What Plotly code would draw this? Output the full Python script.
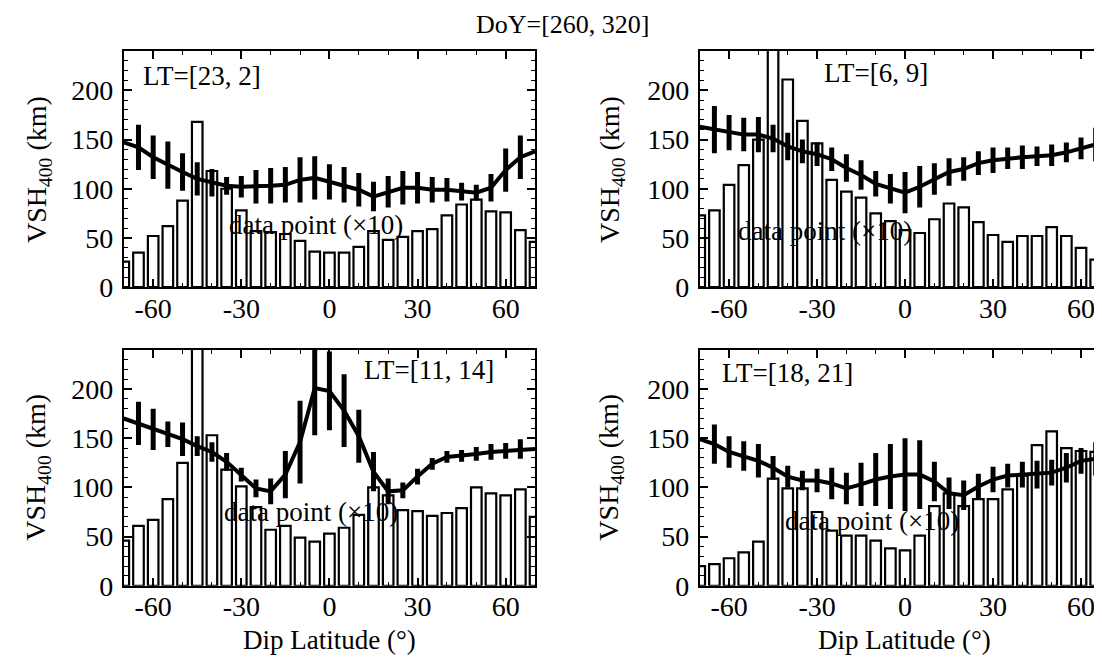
import plotly.graph_objects as go

# ---------------- data ----------------
lat = list(range(-70, 75, 5))

# LT=[23, 2]
counts_23_2 = [26, 35, 52, 62, 88, 168, 118, 100, 78, 57, 56, 54, 47, 36, 35,
               35, 41, 57, 48, 51, 57, 59, 73, 84, 89, 77, 76, 58, 46]
vsh_23_2 = [147, 142, 132, 124, 117, 110, 106, 103, 102, 102, 103, 104, 109, 111, 107,
            104, 99, 92, 97, 101, 101, 99, 99, 97, 96, 101, 119, 132, 138]
err_23_2 = [0, 23, 22, 24, 19, 17, 14, 9, 11, 17, 18, 18, 23, 22, 18,
            18, 17, 15, 16, 17, 16, 13, 12, 9, 8, 14, 22, 22, 0]

# LT=[6, 9]
counts_6_9 = [73, 78, 104, 124, 150, 300, 211, 169, 146, 109, 97, 91, 75, 67, 58,
              55, 69, 85, 81, 66, 53, 46, 52, 52, 61, 52, 40, 28, 16]
vsh_6_9 = [163, 160, 157, 155, 155, 151, 143, 138, 135, 130, 121, 114, 105, 100, 96,
           102, 110, 117, 120, 126, 129, 131, 132, 133, 134, 137, 141, 145, 147]
err_6_9 = [0, 24, 18, 17, 18, 14, 14, 12, 12, 12, 14, 15, 13, 15, 21,
           21, 16, 14, 12, 12, 13, 11, 12, 10, 11, 10, 11, 17, 0]

# LT=[11, 14]
counts_11_14 = [46, 61, 67, 88, 125, 300, 153, 118, 101, 80, 57, 61, 49, 45, 53,
                59, 72, 100, 92, 77, 76, 71, 74, 79, 100, 94, 92, 98, 70]
vsh_11_14 = [170, 165, 159, 154, 149, 142, 136, 126, 113, 99, 96, 113, 146, 201, 198,
             178, 152, 116, 96, 97, 111, 124, 131, 132, 134, 136, 137, 139, 139]
err_11_14 = [0, 22, 21, 13, 17, 10, 10, 9, 7, 9, 13, 24, 42, 48, 40,
             37, 27, 20, 13, 8, 8, 6, 6, 6, 7, 8, 8, 10, 0]

# LT=[18, 21]
counts_18_21 = [20, 22, 28, 34, 45, 109, 99, 99, 75, 56, 51, 51, 46, 38, 36,
                51, 81, 94, 81, 88, 88, 98, 112, 143, 157, 140, 137, 136, 113]
vsh_18_21 = [149, 144, 136, 132, 127, 120, 111, 107, 107, 104, 99, 103, 108, 111, 113,
             113, 106, 94, 92, 101, 108, 112, 113, 113, 115, 120, 127, 129, 128]
err_18_21 = [0, 20, 16, 15, 17, 12, 11, 10, 12, 16, 16, 22, 27, 33, 37,
             35, 20, 16, 15, 13, 13, 12, 13, 14, 13, 15, 13, 17, 0]

lt_labels = ["LT=[23, 2]", "LT=[6, 9]", "LT=[11, 14]", "LT=[18, 21]"]
x_ticks = [-60, -30, 0, 30, 60]
x_tick_text = ["-60", "-30", "0", "30", "60"]
y_ticks = [0, 50, 100, 150, 200]
title_text = "DoY=[260, 320]"
ylabel = "VSH<sub>400</sub> (km)"
xlabel = "Dip Latitude (°)"
count_label = "data point (×10)"

# ---------------- figure ----------------
W, H = 1102, 668
FONT = "Liberation Serif"
FS_TICK = 28
FS = 27


def px(x):
    return x / W


def py(y):
    return 1 - y / H


fig = go.Figure()

series = [
    (counts_23_2, vsh_23_2, err_23_2),
    (counts_6_9, vsh_6_9, err_6_9),
    (counts_11_14, vsh_11_14, err_11_14),
    (counts_18_21, vsh_18_21, err_18_21),
]

for i, (cnt, vsh, err) in enumerate(series):
    xa = "x" if i == 0 else f"x{i+1}"
    ya = "y" if i == 0 else f"y{i+1}"
    fig.add_trace(go.Bar(
        x=lat, y=cnt, width=3.6, xaxis=xa, yaxis=ya,
        marker=dict(color="white", line=dict(color="black", width=2.2)),
        showlegend=False, hoverinfo="skip"))
    fig.add_trace(go.Scatter(
        x=lat, y=vsh, mode="lines", xaxis=xa, yaxis=ya,
        line=dict(color="black", width=4),
        error_y=dict(type="data", array=err, visible=True, color="black",
                     thickness=5, width=0),
        showlegend=False, hoverinfo="skip"))

left_dom = [px(116), px(528)]
right_dom = [px(693), 1.0]
top_dom = [py(286), py(44)]
bot_dom = [py(592), py(350)]

common = dict(showline=True, linecolor="black", linewidth=2, mirror="allticks",
              ticks="inside", ticklen=8, tickwidth=1.5, tickcolor="black",
              showgrid=False, zeroline=False,
              tickfont=dict(family=FONT, size=FS_TICK, color="black"))

xcfg = dict(common, tickmode="array", tickvals=x_ticks, ticktext=x_tick_text,
            ticklabelstandoff=-5,
            minor=dict(ticks="inside", ticklen=4, dtick=10, tick0=0,
                       tickcolor="black", tickwidth=1))
ycfg = dict(common, range=[0, 240], tickvals=y_ticks, ticklabelstandoff=3,
            minor=dict(ticks="inside", ticklen=4, dtick=10, tick0=0,
                       tickcolor="black", tickwidth=1))

doms = [(left_dom, top_dom, [-70, 70]), (right_dom, top_dom, [-70, 69.2]),
        (left_dom, bot_dom, [-70, 70]), (right_dom, bot_dom, [-70, 69.2])]

layout = {}
for i, (xd, yd, xr) in enumerate(doms):
    xk = "xaxis" if i == 0 else f"xaxis{i+1}"
    yk = "yaxis" if i == 0 else f"yaxis{i+1}"
    xa = "x" if i == 0 else f"x{i+1}"
    ya = "y" if i == 0 else f"y{i+1}"
    layout[xk] = dict(xcfg, domain=xd, range=xr, anchor=ya)
    layout[yk] = dict(ycfg, domain=yd, anchor=xa)

fig.update_layout(**layout)

ann = []


def text(x, y, s, xanchor="center", yanchor="middle", angle=0, size=FS):
    ann.append(dict(x=px(x), y=py(y), xref="paper", yref="paper", text=s,
                    showarrow=False, xanchor=xanchor, yanchor=yanchor,
                    textangle=angle,
                    font=dict(family=FONT, size=size, color="black")))


# title
text(556, 17, title_text, size=26)
# LT labels
text(133, 70, lt_labels[0], xanchor="left")
text(815, 67, lt_labels[1], xanchor="left")
text(355, 371, lt_labels[2], xanchor="left")
text(713, 374, lt_labels[3], xanchor="left")
# data point labels
text(309, 222, count_label)
text(818, 228, count_label)
text(304, 516, count_label)
text(866, 526, count_label)
# axis titles
text(30, 165, ylabel, angle=-90, size=28)
text(30, 470, ylabel, angle=-90, size=28)
text(604, 165, ylabel, angle=-90, size=28)
text(604, 470, ylabel, angle=-90, size=28)
text(322, 647, xlabel)
text(898, 647, xlabel)

fig.update_layout(
    width=W, height=H, margin=dict(l=0, r=0, t=0, b=0),
    plot_bgcolor="white", paper_bgcolor="white",
    showlegend=False, barmode="overlay", annotations=ann,
    font=dict(family=FONT, size=FS, color="black"),
)

fig.write_html("out.html")
